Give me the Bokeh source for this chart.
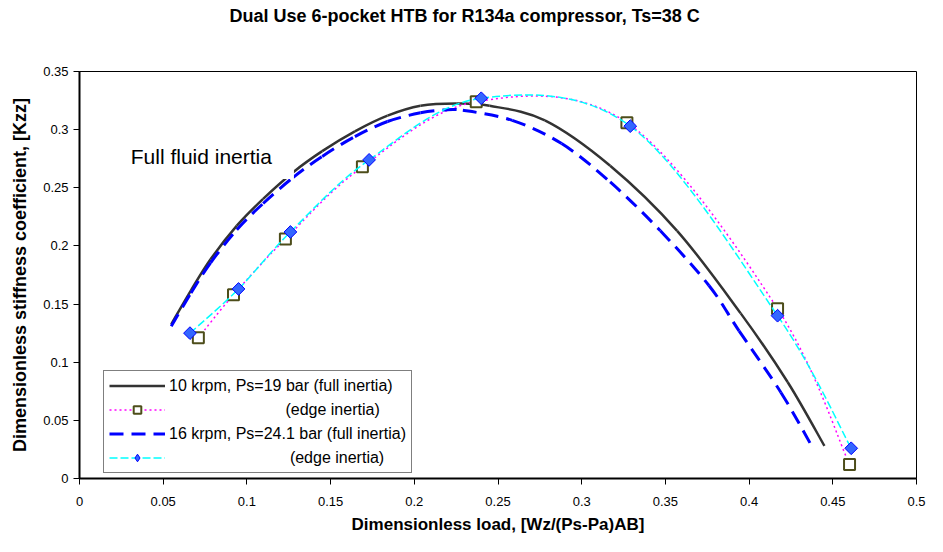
from bokeh.plotting import figure
from bokeh.models import (Range1d, FixedTicker, CustomJSTickFormatter, Legend, LegendItem,
                          Label, Title, ColumnDataSource)
from bokeh.embed import file_html
from bokeh.resources import INLINE
import math

# ---------------- data ----------------
x_ticks = [0, 0.05, 0.1, 0.15, 0.2, 0.25, 0.3, 0.35, 0.4, 0.45, 0.5]
y_ticks = [0, 0.05, 0.1, 0.15, 0.2, 0.25, 0.3, 0.35]

# 10 krpm, Ps=19 bar (full inertia)
full10_x = [0.0548, 0.0666, 0.0783, 0.094, 0.1097, 0.1273, 0.145, 0.1645, 0.184, 0.2037,
            0.225, 0.245, 0.278, 0.317, 0.357, 0.395, 0.423, 0.445]
full10_y = [0.1326, 0.1618, 0.1885, 0.2175, 0.2405, 0.2630, 0.2815, 0.2985, 0.312, 0.3205,
            0.3225, 0.3205, 0.308, 0.269, 0.213, 0.142, 0.083, 0.028]

# 10 krpm edge inertia
edge10_x = [0.071, 0.092, 0.123, 0.169, 0.237, 0.327, 0.417, 0.460]
edge10_y = [0.121, 0.158, 0.206, 0.268, 0.324, 0.306, 0.146, 0.012]

# 16 krpm, Ps=24.1 bar (full inertia)
full16_x = [0.0548, 0.0666, 0.0783, 0.094, 0.1097, 0.1273, 0.145, 0.1645, 0.184, 0.2037,
            0.217, 0.229, 0.2585, 0.288, 0.317, 0.347, 0.376, 0.394, 0.419, 0.437]
full16_y = [0.131, 0.1595, 0.1855, 0.2140, 0.2365, 0.2585, 0.2770, 0.2940, 0.3070, 0.3145,
            0.3168, 0.3166, 0.308, 0.288, 0.255, 0.213, 0.166, 0.127, 0.074, 0.029]

# 16 krpm edge inertia
edge16_x = [0.066, 0.095, 0.126, 0.173, 0.240, 0.329, 0.417, 0.461]
edge16_y = [0.125, 0.163, 0.212, 0.274, 0.327, 0.303, 0.140, 0.026]

title_text = "Dual Use 6-pocket HTB for R134a compressor, Ts=38 C"
labels = ["10 krpm, Ps=19 bar (full inertia)",
          "\u2003" * 7 + "\u00a0" * 1 + "(edge inertia)",
          "16 krpm, Ps=24.1 bar (full inertia)",
          "\u2003" * 7 + "\u00a0" * 2 + "(edge inertia)"]

FONT = "Liberation Sans"
NAN = float("nan")


def smooth_source(xs, ys):
    """Bezier segments through the points (smoothed line, like the spreadsheet)."""
    n = len(xs)
    d = dict(x0=[], y0=[], x1=[], y1=[], cx0=[], cy0=[], cx1=[], cy1=[])
    for i in range(n - 1):
        im = i - 1 if i > 0 else i
        ip = i + 2 if i + 2 < n else i + 1
        d["x0"].append(xs[i]); d["y0"].append(ys[i])
        d["x1"].append(xs[i + 1]); d["y1"].append(ys[i + 1])
        d["cx0"].append(xs[i] + (xs[i + 1] - xs[im]) / 6.0)
        d["cy0"].append(ys[i] + (ys[i + 1] - ys[im]) / 6.0)
        d["cx1"].append(xs[i + 1] - (xs[ip] - xs[i]) / 6.0)
        d["cy1"].append(ys[i + 1] - (ys[ip] - ys[i]) / 6.0)
    return ColumnDataSource(d)


W, H = 927, 536
BL, BR, BT, BB = 79, 11, 71, 58
p = figure(width=W, height=H, output_backend="svg", toolbar_location=None, title=None,
           x_range=Range1d(0, 0.5), y_range=Range1d(0, 0.35),
           min_border_left=BL, min_border_right=BR, min_border_top=BT, min_border_bottom=BB)

# spacer (closest to the frame), then the real title further out
p.add_layout(Title(text=" ", text_font=FONT, text_font_size="10px", standoff=31), "above")
p.add_layout(Title(text=title_text, text_font=FONT, text_font_size="18px", text_font_style="bold",
                   text_color="black", align="left", offset=150, vertical_align="top",
                   standoff=0), "above")

p.xgrid.visible = False
p.ygrid.visible = False
p.outline_line_color = "black"
p.outline_line_width = 1
p.background_fill_color = "white"
p.border_fill_color = "white"

fmt = CustomJSTickFormatter(code="return (Math.round(tick*100)/100).toString();")
for ax, ticks in ((p.xaxis, x_ticks), (p.yaxis, y_ticks)):
    ax.ticker = FixedTicker(ticks=ticks)
    ax.formatter = fmt
    ax.minor_tick_line_color = None
    ax.major_tick_in = 0
    ax.major_tick_out = 6
    ax.major_tick_line_color = "black"
    ax.axis_line_color = "black"
    ax.axis_line_width = 2
    ax.major_label_text_font = FONT
    ax.major_label_text_font_size = "13px"
    ax.major_label_text_color = "black"
    ax.axis_label_text_font = FONT
    ax.axis_label_text_font_style = "bold"
    ax.axis_label_text_color = "black"

p.xaxis.axis_label = "Dimensionless load, [Wz/(Ps-Pa)AB]"
p.xaxis.axis_label_text_font_size = "17px"
p.xaxis.major_label_standoff = 12
p.xaxis.axis_label_standoff = 6
p.yaxis.axis_label = "Dimensionless stiffness coefficient, [Kzz]"
p.yaxis.axis_label_text_font_size = "18px"
p.yaxis.major_label_standoff = 5
p.yaxis.axis_label_standoff = 10

# series styles
black = dict(line_color="#333333", line_width=2.5)
magenta = dict(line_color="#FF00FF", line_width=1.5, line_dash="2 3")
blue = dict(line_color="#0000FF", line_width=3, line_dash="14 8")
cyan = dict(line_color="#00FFFF", line_width=1.5, line_dash="8 3")
square_style = dict(marker="square", size=11, fill_color="white", line_color="#4D4D1A", line_width=2)
diamond_style = dict(fill_color="#3366FF", line_color="#0000FF", line_width=1)

BZ = dict(x0="x0", y0="y0", x1="x1", y1="y1", cx0="cx0", cy0="cy0", cx1="cx1", cy1="cy1")
p.bezier(source=smooth_source(full10_x, full10_y), **BZ, **black)
p.bezier(source=smooth_source(edge10_x, edge10_y), **BZ, **magenta)
sq = p.scatter(edge10_x, edge10_y, **square_style)
p.bezier(source=smooth_source(full16_x, full16_y), **BZ, **blue)
p.bezier(source=smooth_source(edge16_x, edge16_y), **BZ, **cyan)
p.scatter(edge16_x, edge16_y, marker="square", size=9, angle=math.pi / 4, **diamond_style)

# legend proxies (same styles as the curves, no visible data)
l1 = p.line(x=[NAN], y=[NAN], **black)
l2 = p.line(x=[NAN], y=[NAN], **magenta)
l3 = p.line(x=[NAN], y=[NAN], **blue)
l4 = p.line(x=[NAN], y=[NAN], **cyan)
dm = p.scatter(x=[NAN], y=[NAN], marker="diamond", size=15, **diamond_style)

legend = Legend(items=[LegendItem(label=labels[0], renderers=[l1]),
                       LegendItem(label=labels[1], renderers=[l2, sq]),
                       LegendItem(label=labels[2], renderers=[l3]),
                       LegendItem(label=labels[3], renderers=[l4, dm])],
                location=(24, 5), glyph_width=56, glyph_height=19, label_height=19,
                label_standoff=4, spacing=5, padding=5, margin=0,
                border_line_color="black", border_line_width=1,
                background_fill_color="white", background_fill_alpha=1,
                label_text_font=FONT, label_text_font_size="16px", label_text_color="black")
p.add_layout(legend, "center")

# text box of the annotation (white box that interrupts the curves, as in the source)
p.add_layout(Label(x=0.0294, y=0.273, text="Full fluid inertia", text_font=FONT,
                   text_font_size="21px", text_baseline="middle", text_color="black",
                   background_fill_color="white", background_fill_alpha=1,
                   padding=dict(left=2, right=22, top=2, bottom=11)))

open("out.html", "w").write(file_html(p, INLINE))
